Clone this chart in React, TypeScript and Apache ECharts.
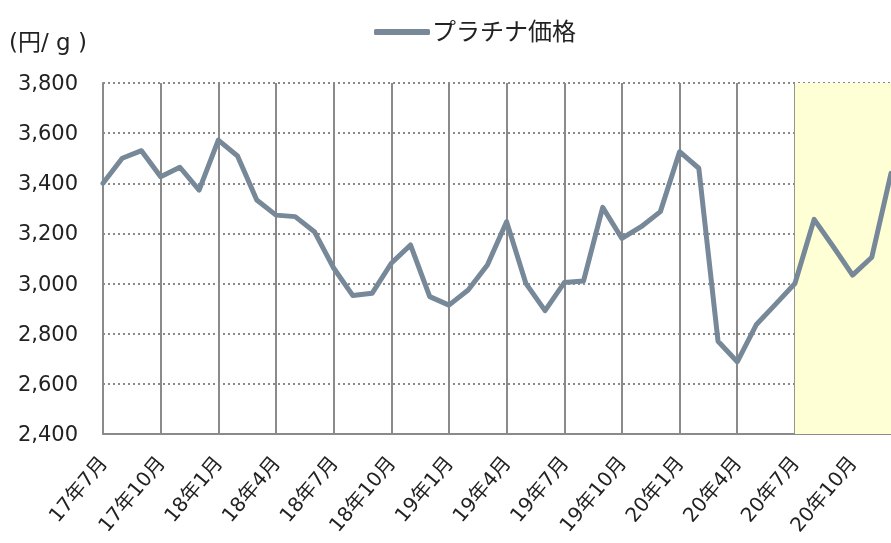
import React, { useEffect, useRef } from "react";
import * as echarts from "echarts";

const categories = [
  "17年7月", "17年8月", "17年9月", "17年10月", "17年11月", "17年12月",
  "18年1月", "18年2月", "18年3月", "18年4月", "18年5月", "18年6月",
  "18年7月", "18年8月", "18年9月", "18年10月", "18年11月", "18年12月",
  "19年1月", "19年2月", "19年3月", "19年4月", "19年5月", "19年6月",
  "19年7月", "19年8月", "19年9月", "19年10月", "19年11月", "19年12月",
  "20年1月", "20年2月", "20年3月", "20年4月", "20年5月", "20年6月",
  "20年7月", "20年8月", "20年9月", "20年10月", "20年11月", "20年12月",
];

const platinumPrice = [
  3400, 3500, 3530, 3426, 3464, 3373,
  3572, 3509, 3333, 3273, 3267, 3207,
  3062, 2952, 2961, 3081, 3154, 2948,
  2914, 2974, 3074, 3247, 3001, 2892,
  3004, 3010, 3304, 3180, 3227, 3287,
  3526, 3460, 2770, 2688, 2837, 2918,
  3000, 3256, 3147, 3034, 3105, 3440,
];

const seriesName = "プラチナ価格";
const unitLabel = "(円/ g )";
const highlightStart = "20年7月";
const highlightEnd = "20年12月";

export default function App() {
  const ref = useRef<HTMLDivElement>(null);
  useEffect(() => {
    if (!ref.current) return;
    const chart = echarts.init(ref.current, undefined, { renderer: "svg" });
    const font = "'DejaVu Sans', Verdana, 'Noto Sans CJK JP', sans-serif";
    chart.setOption({
      animation: false,
      textStyle: { fontFamily: font },
      legend: {
        data: [seriesName],
        left: 369,
        top: 15,
        icon: "roundRect",
        itemWidth: 56,
        itemHeight: 6,
        itemGap: 10,
        textStyle: { fontSize: 24, color: "#222", fontFamily: font, padding: [0, 0, 0, -3] },
      },
      graphic: [
        {
          type: "text",
          left: 9,
          top: 30,
          style: { text: unitLabel, fontSize: 23, fill: "#222", fontFamily: font },
        },
      ],
      grid: { left: 103, right: 0, top: 83, bottom: 109, containLabel: false },
      xAxis: {
        type: "category",
        data: categories,
        boundaryGap: false,
        axisLine: { show: true, lineStyle: { color: "#8a8a8a", width: 2 } },
        axisTick: { show: false },
        axisLabel: {
          interval: 2,
          rotate: 50,
          fontSize: 20,
          color: "#222",
          margin: 25,
          fontFamily: font,
        },
        splitLine: {
          show: true,
          interval: 2,
          lineStyle: { color: "#8a8a8a", width: 2, type: "solid" },
        },
      },
      yAxis: {
        type: "value",
        min: 2400,
        max: 3800,
        interval: 200,
        axisLine: { show: true, lineStyle: { color: "#8a8a8a", width: 2 } },
        axisTick: { show: false },
        axisLabel: {
          fontSize: 21,
          color: "#222",
          margin: 25,
          fontFamily: font,
          formatter: (v: number) => v.toLocaleString("en-US"),
        },
        splitLine: {
          show: true,
          lineStyle: { color: "#8a8a8a", width: 2, type: [2, 3] },
        },
      },
      series: [
        {
          name: seriesName,
          type: "line",
          data: platinumPrice,
          showSymbol: false,
          symbol: "none",
          lineStyle: { color: "#778899", width: 5, cap: "round", join: "round" },
          itemStyle: { color: "#778899" },
          markArea: {
            silent: true,
            itemStyle: { color: "#FFFFD5" },
            data: [[{ xAxis: highlightStart }, { xAxis: highlightEnd }]],
          },
        },
      ],
    });
    return () => chart.dispose();
  }, []);
  return (
    <div
      ref={ref}
      style={{ position: "fixed", left: 0, top: 0, width: 891, height: 543 }}
    />
  );
}
